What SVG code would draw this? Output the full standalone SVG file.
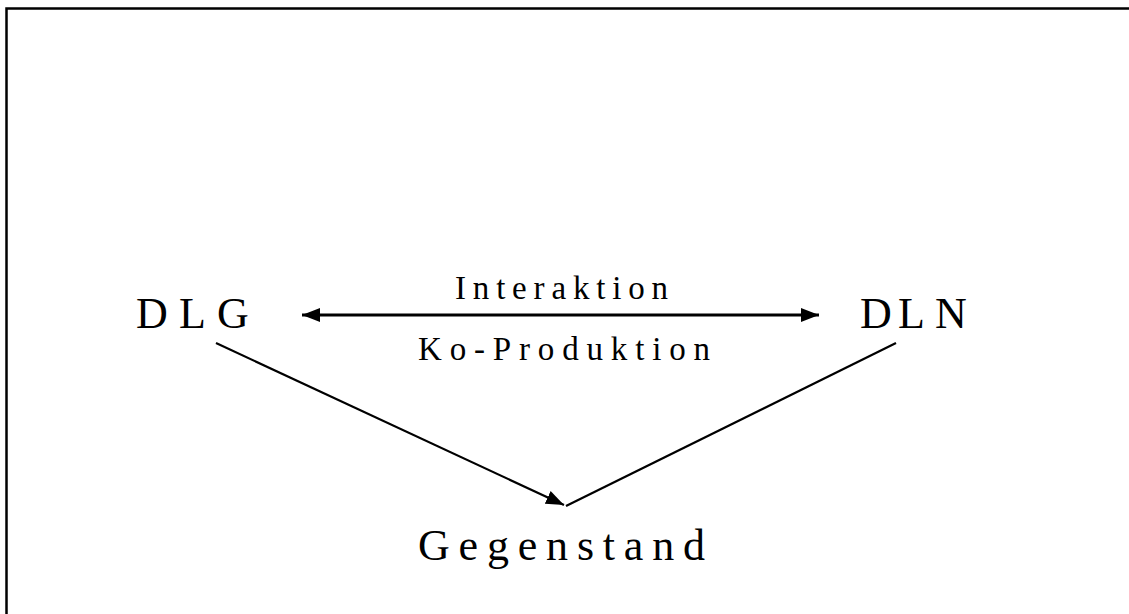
<svg xmlns="http://www.w3.org/2000/svg" width="1129" height="614" viewBox="0 0 1129 614">
<style>
.t{font-family:"Liberation Serif","Times New Roman",serif;fill:#000}
.big{font-size:44px}
.mid{font-size:33px}
.c{stroke:#000;fill:none}
</style>
<defs>
<marker id="ah" viewBox="0 0 18 14" refX="18" refY="7" markerWidth="18" markerHeight="14" markerUnits="userSpaceOnUse" orient="auto-start-reverse">
<path d="M0,0 L18,7 L0,14 Z" fill="#000"/>
</marker>
</defs>
<rect x="0" y="0" width="1129" height="614" fill="#fff"/>
<path d="M6.5,614 L6.5,8.5 L1129,8.5" class="c" stroke-width="2.5"/>
<g id="dlg"><text class="t big" x="136 179 217" y="328">DLG</text></g>
<g id="dln"><text class="t big" x="860 898 935" y="328">DLN</text></g>
<g id="gegenstand"><text class="t big" x="418" y="560" textLength="287" lengthAdjust="spacing">Gegenstand</text></g>
<g id="connectors">
<line x1="302" y1="315" x2="819" y2="315" class="c" stroke-width="3" marker-start="url(#ah)" marker-end="url(#ah)"/>
<text class="t mid" x="455" y="299" textLength="213" lengthAdjust="spacing">Interaktion</text>
<text class="t mid" x="418" y="360" textLength="292" lengthAdjust="spacing">Ko-Produktion</text>
<line x1="216" y1="343" x2="564" y2="505" class="c" stroke-width="2.2" marker-end="url(#ah)"/>
<line x1="566" y1="506" x2="896" y2="343" class="c" stroke-width="2.2"/>
</g>
</svg>
